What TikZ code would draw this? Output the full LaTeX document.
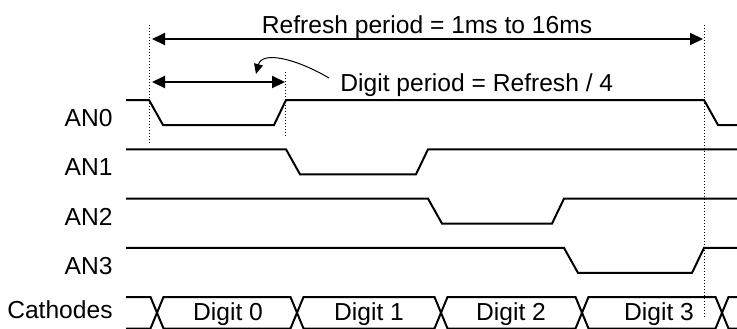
\documentclass[tikz,border=0pt]{standalone}
\usepackage{fontspec}
\setmainfont{Liberation Sans}
\usetikzlibrary{arrows.meta}
\tikzset{
    wave/.style={line width=1pt},
    guide/.style={line width=0.5pt, dash pattern=on 0.5pt off 1pt},
    span/.style={line width=1pt, {Triangle[length=6.5pt,width=6pt]}-{Triangle[length=6.5pt,width=6pt]}},
    lbl/.style={inner sep=0pt, font=\fontsize{12.3pt}{14pt}\selectfont}
}
\begin{document}
\begin{tikzpicture}[x=0.5pt,y=-0.5pt]
    \useasboundingbox (0,0) rectangle (737,328);
    \draw[guide] (149,25) -- (149,145);
    \draw[guide] (285,72) -- (285,138);
    \draw[guide] (704,25) -- (704,318);
    \coordinate (refL) at (152,39);
    \coordinate (refR) at (703,39);
    \coordinate (digL) at (152,82);
    \coordinate (digR) at (285,82);
    \coordinate (bend) at (256,74);
    \node[lbl, anchor=base] (refresh) at (427,33) {Refresh period = 1ms to 16ms};
    \draw[span] (refL) -- (refR);
    \node[lbl, anchor=base west] (digitper) at (340,91) {Digit period = Refresh / 4};
    \draw[span] (digL) -- (digR);
    \draw[line width=0.5pt, -{Triangle[length=5pt,width=4.5pt]}] ([xshift=-5.5pt,yshift=6.5pt]digitper.base west) .. controls (295,58) and (262,51) .. (bend);

    \draw[wave] (126,100) -- (149,100) -- (163,125) -- (274,125) -- (286,100) -- (704,100) -- (718,125) -- (737,125);
    \foreach \i/\a/\b in {1/286/428, 2/428/564, 3/564/704}
    {
        \draw[wave] (126,100+49.3*\i) -- (\a,100+49.3*\i) -- (\a+14,125+49.3*\i) -- (\b-12,125+49.3*\i) -- (\b,100+49.3*\i) -- (737,100+49.3*\i);
    }
    \foreach \i in {0,...,3}
    {
        \node[lbl, anchor=base east] (an\i) at (113,126.5+49.3*\i) {AN\i};
    }
    \node[lbl, anchor=base east] (cathodes) at (113,318.5) {Cathodes};

    \draw[wave] (126,297) -- (150.5,297) -- (157,312.75) -- (150.5,328.5) -- (126,328.5);
    \foreach \k/\l/\r/\m in {0/157/297/228, 1/297/441/369, 2/441/582/511, 3/582/722/659}
    {
        \draw[wave] (\l,312.75) -- (\l+6.5,297) -- (\r-6.5,297) -- (\r,312.75) -- (\r-6.5,328.5) -- (\l+6.5,328.5) -- cycle;
        \node[lbl, anchor=base] (digit\k) at (\m,320) {Digit \k};
    }
    \draw[wave] (737,297) -- (728.5,297) -- (722,312.75) -- (728.5,328.5) -- (737,328.5);
\end{tikzpicture}
\end{document}
